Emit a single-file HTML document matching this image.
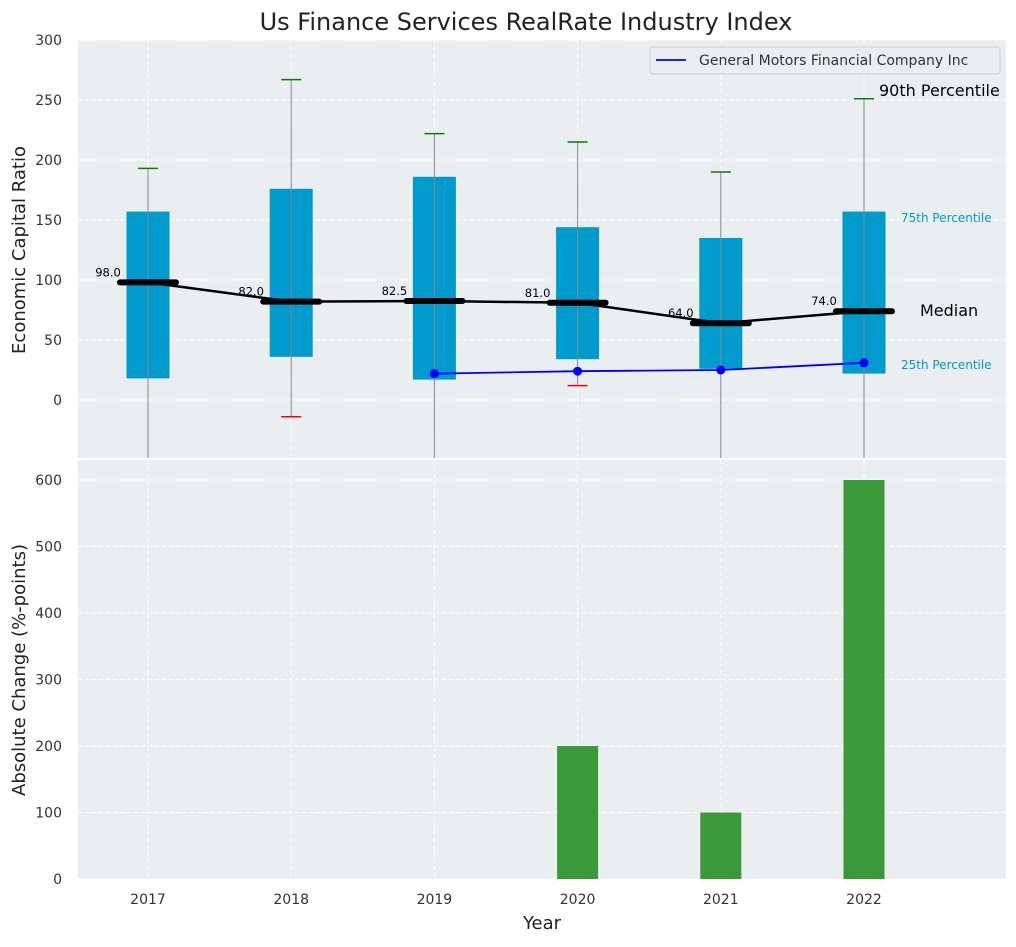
<!DOCTYPE html>
<html><head><meta charset="utf-8"><style>
body{margin:0;background:#fff;font-family:"Liberation Sans","DejaVu Sans",sans-serif;}
svg text{font-family:"DejaVu Sans","Liberation Sans",sans-serif;}
</style></head><body>
<svg id="c" width="1016" height="942" xmlns="http://www.w3.org/2000/svg"></svg>
<script>
const years=[2017,2018,2019,2020,2021,2022];
const q1=[18,36,17,34,26,22];
const q3=[157,176,186,144,135,157];
const med=[98,82,82.5,81,64,74];
const whiskHi=[193,267,222,215,190,251];
const whiskLo=[-60,-14,-60,12,-60,-60];
const loCapShown=[false,true,false,true,false,false];
const gmYears=[2019,2020,2021,2022];
const gmVals=[22,24,25,31];
const chgVals=[0,0,0,200,100,600];
const topTicks=[0,50,100,150,200,250,300];
const botTicks=[0,100,200,300,400,500,600];

const svg=document.getElementById('c');const NS='http://www.w3.org/2000/svg';
function el(t,a,p){const e=document.createElementNS(NS,t);for(const k in a)e.setAttribute(k,a[k]);(p||svg).appendChild(e);return e;}
const X0=78,X1=1006;
const xs=y=>148+(y-2017)*143.2;
const ty=v=>400-v*1.2;
const by=v=>879-v*0.665;
// backgrounds
let bg1=el('rect',{x:X0,y:40,width:X1-X0,height:418,fill:'#eaeef0'});

let bg2=el('rect',{x:X0,y:460,width:X1-X0,height:419,fill:'#eaeef0'});

// grids
topTicks.forEach(t=>{el('line',{x1:X0,x2:X1,y1:ty(t),y2:ty(t),stroke:'#fff','stroke-dasharray':'4,3'});
 const tx=el('text',{x:62,y:ty(t)+5,'text-anchor':'end','font-size':14,fill:'#333'});tx.textContent=t;
 });
botTicks.forEach(t=>{el('line',{x1:X0,x2:X1,y1:by(t),y2:by(t),stroke:'#fff','stroke-dasharray':'4,3'});
 const tx=el('text',{x:62,y:by(t)+5,'text-anchor':'end','font-size':14,fill:'#333'});tx.textContent=t;
 });
years.forEach(y=>{[[40,458],[460,879]].forEach(r=>el('line',{x1:xs(y),x2:xs(y),y1:r[0],y2:r[1],stroke:'#fff','stroke-dasharray':'4,3'}));
 const tx=el('text',{x:xs(y),y:904,'text-anchor':'middle','font-size':14,fill:'#333'});tx.textContent=y;
 });
const clip=el('clipPath',{id:'cp'});el('rect',{x:X0,y:40,width:X1-X0,height:418},clip);
const g=el('g',{'clip-path':'url(#cp)'});
// boxes
years.forEach((y,i)=>{const x=xs(y);
 let b=el('rect',{x:x-21.5,y:ty(q3[i]),width:43,height:ty(q1[i])-ty(q3[i]),fill:'#009acd'},g);
 
 el('line',{x1:x,x2:x,y1:ty(whiskHi[i]),y2:ty(whiskLo[i]),stroke:'#888','stroke-width':1},g);
 el('line',{x1:x-10,x2:x+10,y1:ty(whiskHi[i]),y2:ty(whiskHi[i]),stroke:'green','stroke-width':1.5},g);
 if(loCapShown[i])el('line',{x1:x-10,x2:x+10,y1:ty(whiskLo[i]),y2:ty(whiskLo[i]),stroke:'red','stroke-width':1.5},g);
});
// median line
let mp=el('polyline',{points:years.map((y,i)=>xs(y)+','+ty(med[i])).join(' '),fill:'none',stroke:'#000','stroke-width':2.5},g);

years.forEach((y,i)=>{const x=xs(y);
 el('line',{x1:x-28,x2:x+28,y1:ty(med[i]),y2:ty(med[i]),stroke:'#000','stroke-width':6,'stroke-linecap':'round'},g);
 const t=el('text',{x:x-40,y:ty(med[i])-6,'text-anchor':'middle','font-size':11.5,fill:'#000'},g);t.textContent=med[i].toFixed(1);
 });
// gm line
let gp=el('polyline',{points:gmYears.map((y,i)=>xs(y)+','+ty(gmVals[i])).join(' '),fill:'none',stroke:'blue','stroke-width':1.8},g);

gmYears.forEach((y,i)=>{const c=el('circle',{cx:xs(y),cy:ty(gmVals[i]),r:4.5,fill:'blue'},g);
 });
// annotations
[['90th Percentile',879,96,16,'#000'],['75th Percentile',901,222,12,'#009acd'],['Median',920,316,16,'#000'],['25th Percentile',901,369,12,'#009acd']].forEach(a=>{
 const t=el('text',{x:a[1],y:a[2],'font-size':a[3],fill:a[4]});t.textContent=a[0];
 });
// bars
years.forEach((y,i)=>{if(chgVals[i]<=0)return;const b=el('rect',{x:xs(y)-20.5,y:by(chgVals[i]),width:41,height:by(0)-by(chgVals[i]),fill:'#3a9a3a'});
 });
// legend
const lg=el('g',{});
el('rect',{x:650,y:47,width:350,height:27,fill:'#eaeef0',stroke:'#ccc',rx:3},lg);
el('line',{x1:656,x2:686,y1:60,y2:60,stroke:'blue','stroke-width':1.8},lg);
const lt=el('text',{x:699,y:65,'font-size':14,fill:'#333'},lg);lt.textContent='General Motors Financial Company Inc';
// titles
const T=el('text',{x:526,y:30,'text-anchor':'middle','font-size':24,fill:'#222'});T.textContent='Us Finance Services RealRate Industry Index';

const Y1=el('text',{x:25,y:250,'text-anchor':'middle','font-size':18,fill:'#222',transform:'rotate(-90 25 250)'});Y1.textContent='Economic Capital Ratio';

const Y2=el('text',{x:25,y:670,'text-anchor':'middle','font-size':18,fill:'#222',transform:'rotate(-90 25 670)'});Y2.textContent='Absolute Change (%-points)';

const XT=el('text',{x:542,y:929,'text-anchor':'middle','font-size':18,fill:'#222'});XT.textContent='Year';

</script>
</body></html>
